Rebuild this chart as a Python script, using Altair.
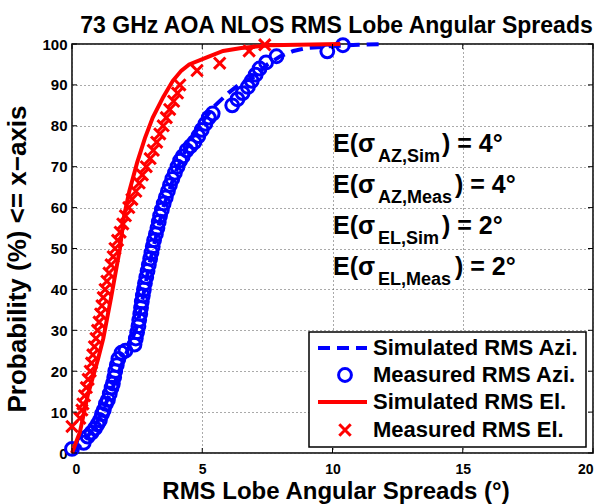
import altair as alt
import pandas as pd

# ---------------- data ----------------
azi_meas_x = [0.00, 0.45, 0.60, 0.75, 0.88, 0.98, 1.07, 1.15, 1.22, 1.30, 1.38, 1.45, 1.52, 1.57,
              1.62, 1.66, 1.72, 1.78, 1.90, 2.05, 2.40, 2.45, 2.50, 2.55, 2.58, 2.62, 2.65, 2.68,
              2.72, 2.76, 2.80, 2.85, 2.90, 2.95, 3.00, 3.05, 3.10, 3.15, 3.22, 3.28, 3.33, 3.38,
              3.45, 3.52, 3.60, 3.68, 3.76, 3.85, 3.95, 4.05, 4.15, 4.25, 4.40, 4.55, 4.70, 4.85,
              4.98, 5.12, 5.25, 5.40, 6.15, 6.35, 6.55, 6.75, 6.90, 7.05, 7.20, 7.45, 7.85, 9.80,
              10.40]
azi_meas_p = [1.0, 2.5, 4.0, 5.0, 6.0, 7.0, 8.0, 9.5, 10.5, 12.0, 13.0, 14.5, 16.0, 17.0,
              18.5, 20.0, 21.5, 23.0, 24.5, 25.0, 26.5, 28.0, 29.5, 31.0, 32.5, 34.0, 35.5, 37.0,
              38.5, 40.0, 41.5, 43.0, 44.5, 46.0, 47.5, 49.0, 50.5, 52.0, 53.5, 55.0, 56.5, 58.0,
              59.5, 61.0, 62.5, 64.0, 65.5, 67.0, 68.5, 70.0, 71.5, 72.5, 74.0, 75.0, 76.0, 77.5,
              79.0, 80.5, 82.0, 83.0, 85.0, 86.5, 88.0, 89.5, 91.0, 92.5, 94.0, 95.5, 97.0, 98.2,
              99.7]

el_meas_x = [0.00, 0.30, 0.38, 0.42, 0.48, 0.55, 0.62, 0.70, 0.75, 0.80, 0.86, 0.92, 0.98, 1.04,
             1.10, 1.15, 1.20, 1.27, 1.34, 1.42, 1.50, 1.58, 1.65, 1.75, 1.85, 1.95, 2.05, 2.18,
             2.30, 2.45, 2.58, 2.70, 2.85, 3.00, 3.12, 3.25, 3.37, 3.50, 3.62, 3.75, 3.90, 4.05,
             4.14, 4.80, 5.67, 6.80, 7.40]
el_meas_p = [6.5, 8.5, 10.5, 12.0, 14.0, 16.0, 18.0, 20.0, 22.0, 24.0, 26.0, 28.0, 30.0, 32.0,
             34.0, 36.0, 38.0, 40.0, 42.0, 44.0, 46.0, 48.0, 50.0, 52.0, 54.0, 56.0, 58.0, 60.0,
             62.0, 64.0, 66.0, 68.0, 70.0, 72.0, 74.0, 76.0, 78.0, 80.0, 82.0, 84.0, 86.0, 88.0,
             90.0, 93.5, 95.3, 98.3, 99.8]

azi_sim_x = [0.0, 0.5, 1.0, 1.5, 2.0, 2.5, 3.0, 3.5, 4.0, 4.5, 5.0, 5.5, 6.0, 6.5, 7.0, 7.5,
             8.0, 8.5, 9.0, 10.0, 11.0, 12.0]
azi_sim_p = [0, 3, 8, 15, 23, 31, 47, 60, 69, 76, 81, 85, 88, 90.5, 92, 95,
             97, 98.3, 99, 99.5, 99.8, 100]

el_sim_x = [0.0, 0.3, 0.6, 1.0, 1.2, 1.5, 1.84, 2.0, 2.2, 2.5, 2.8, 3.1, 3.5, 3.87, 4.2, 4.5,
            5.2, 5.8, 6.5, 7.6, 10.3]
el_sim_p = [0, 5, 14, 23, 28, 38, 50, 58, 64, 71, 77, 82, 87, 91, 93.5, 95,
            96.8, 98.3, 99, 99.7, 100]

x_ticks = [0, 5, 10, 15, 20]
y_ticks = [0, 10, 20, 30, 40, 50, 60, 70, 80, 90, 100]

legend_labels = ["Simulated RMS Azi.", "Measured RMS Azi.", "Simulated RMS El.", "Measured RMS El."]
ann_subs = ["AZ,Sim", "AZ,Meas", "EL,Sim", "EL,Meas"]
ann_vals = ["4°", "4°", "2°", "2°"]

title_text = "73 GHz AOA NLOS RMS Lobe Angular Spreads"
x_title = "RMS Lobe Angular Spreads (°)"
y_title = "Probability (%) <= x\u2212axis"

# ---------------- layout ----------------
W, H = 521, 409
FONT = "Liberation Sans"
BLUE = "#0000ff"
RED = "#ff0000"
XMARK = "M-1,-1L1,1M-1,1L1,-1"

xs = alt.Scale(domain=[0, 20], nice=False, zero=False)
ys = alt.Scale(domain=[0, 100], nice=False, zero=False)

xaxis = alt.Axis(values=x_ticks, title=None, grid=True, gridDash=[1, 3], gridColor="#555",
                 gridWidth=1, ticks=False, domain=False, labelFont=FONT, labelFontWeight="bold",
                 labelFontSize=14, labelColor="black", labelPadding=9)
yaxis = alt.Axis(values=y_ticks, title=None, grid=True, gridDash=[1, 3], gridColor="#555",
                 gridWidth=1, ticks=False, domain=False, labelFont=FONT, labelFontWeight="bold",
                 labelFontSize=15, labelColor="black", labelPadding=5)

df_azi_sim = pd.DataFrame({"x": azi_sim_x, "p": azi_sim_p})
df_azi_meas = pd.DataFrame({"x": azi_meas_x, "p": azi_meas_p})
df_el_sim = pd.DataFrame({"x": el_sim_x, "p": el_sim_p})
df_el_meas = pd.DataFrame({"x": el_meas_x, "p": el_meas_p})

base_grid = alt.Chart(df_azi_sim).mark_line(opacity=0).encode(
    x=alt.X("x:Q", scale=xs, axis=xaxis),
    y=alt.Y("p:Q", scale=ys, axis=yaxis),
)

CIRC = dict(shape="circle", filled=False, color=BLUE, size=165, strokeWidth=3, opacity=1)
CROSS = dict(shape=XMARK, filled=False, color=RED, size=130, strokeWidth=3, opacity=1)

azi_sim = alt.Chart(df_azi_sim).mark_line(color=BLUE, strokeWidth=4, strokeDash=[12, 7]).encode(
    x=alt.X("x:Q", scale=xs), y=alt.Y("p:Q", scale=ys), order="x:Q")
azi_meas = alt.Chart(df_azi_meas).mark_point(**CIRC).encode(
    x=alt.X("x:Q", scale=xs), y=alt.Y("p:Q", scale=ys))
el_sim = alt.Chart(df_el_sim).mark_line(color=RED, strokeWidth=4).encode(
    x=alt.X("x:Q", scale=xs), y=alt.Y("p:Q", scale=ys), order="x:Q")
el_meas = alt.Chart(df_el_meas).mark_point(**CROSS).encode(
    x=alt.X("x:Q", scale=xs), y=alt.Y("p:Q", scale=ys))

# inward ticks (MATLAB style)
df_xt = pd.DataFrame({"v": x_ticks})
df_yt = pd.DataFrame({"v": y_ticks})
tk = dict(color="black", strokeWidth=1)
ticks = [
    alt.Chart(df_xt).mark_rule(**tk).encode(x=alt.X("v:Q", scale=xs), y=alt.value(H), y2=alt.value(H - 5)),
    alt.Chart(df_xt).mark_rule(**tk).encode(x=alt.X("v:Q", scale=xs), y=alt.value(0), y2=alt.value(5)),
    alt.Chart(df_yt).mark_rule(**tk).encode(y=alt.Y("v:Q", scale=ys), x=alt.value(0), x2=alt.value(5)),
    alt.Chart(df_yt).mark_rule(**tk).encode(y=alt.Y("v:Q", scale=ys), x=alt.value(W), x2=alt.value(W - 5)),
]

one = pd.DataFrame({"a": [0]})


def txt(s, x, y, size, align="left", baseline="alphabetic", angle=0):
    kw = dict(text=s, font=FONT, fontWeight="bold", fontSize=size, color="black",
              align=align, baseline=baseline)
    if angle:
        kw["angle"] = angle
    return alt.Chart(one).mark_text(**kw).encode(x=alt.value(x), y=alt.value(y))


texts = [
    txt(title_text, W / 2 + 4, -11, 23, align="center"),
    txt(x_title, 264, 455, 24, align="center"),
    txt(y_title, -46, 215, 26, align="center", angle=270),
]

# annotations E(sigma ...)
row_base = [108, 149, 190, 231]
close_x = [370, 383, 370, 383]
for i in range(4):
    texts.append(txt("E(\u03c3", 261, row_base[i], 25))
    texts.append(txt(ann_subs[i], 306, row_base[i] + 10, 18))
    texts.append(txt(") = " + ann_vals[i], close_x[i], row_base[i], 25))

# legend box
legend = [
    alt.Chart(one).mark_rect(fill="white", stroke="black", strokeWidth=1.5).encode(
        x=alt.value(237), x2=alt.value(514), y=alt.value(288), y2=alt.value(403)),
]
ly = [304, 331, 358, 386]
legend.append(alt.Chart(one).mark_rule(color=BLUE, strokeWidth=4, strokeDash=[12, 7]).encode(
    x=alt.value(246), x2=alt.value(295), y=alt.value(ly[0])))
legend.append(alt.Chart(one).mark_point(**CIRC).encode(x=alt.value(273), y=alt.value(ly[1])))
legend.append(alt.Chart(one).mark_rule(color=RED, strokeWidth=4).encode(
    x=alt.value(246), x2=alt.value(295), y=alt.value(ly[2])))
legend.append(alt.Chart(one).mark_point(**CROSS).encode(x=alt.value(273), y=alt.value(ly[3])))
for i, lab in enumerate(legend_labels):
    legend.append(txt(lab, 301, ly[i], 22, baseline="middle"))

chart = alt.layer(base_grid, azi_sim, azi_meas, el_sim, el_meas, *ticks, *texts, *legend).properties(
    width=W, height=H,
    autosize=alt.AutoSizeParams(type="none"),
    padding={"left": 72, "top": 44, "right": 4, "bottom": 51},
    background="white",
).configure_view(stroke="black", strokeWidth=1.5)

chart.save("out.html", embed_options={"renderer": "svg", "actions": False})
